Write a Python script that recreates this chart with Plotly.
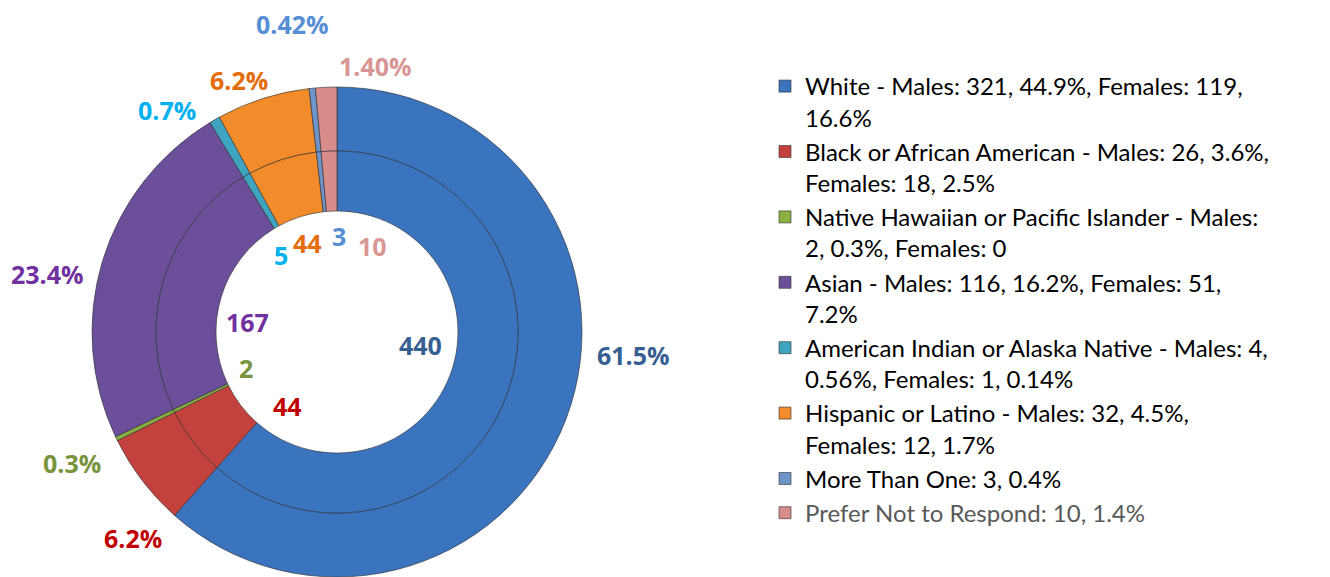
import plotly.graph_objects as go

# enrollment by race / ethnicity (both rings show the same counts)
categories = [
    "White - Males: 321, 44.9%, Females: 119,<br>16.6%",
    "Black or African American - Males: 26, 3.6%,<br>Females: 18, 2.5%",
    "Native Hawaiian or Pacific Islander - Males:<br>2, 0.3%, Females: 0",
    "Asian - Males: 116, 16.2%, Females: 51,<br>7.2%",
    "American Indian or Alaska Native - Males: 4,<br>0.56%, Females: 1, 0.14%",
    "Hispanic or Latino - Males: 32, 4.5%,<br>Females: 12, 1.7%",
    "More Than One: 3, 0.4%",
    "<span style='color:#595959'>Prefer Not to Respond: 10, 1.4%</span>",
]
counts = [440, 44, 2, 167, 5, 44, 3, 10]
outer_labels = ["61.5%", "6.2%", "0.3%", "23.4%", "0.7%", "6.2%", "0.42%", "1.40%"]
inner_labels = ["440", "44", "2", "167", "5", "44", "3", "10"]

colors = ["#3B74BE", "#C4423D", "#8AB03F", "#6C4F9A", "#3FA4BF", "#F28C2A", "#6F94C9", "#D88D8B"]
label_colors = ["#376092", "#C00000", "#77933C", "#7030A0", "#00B0F0", "#E46C0A", "#558ED5", "#D99694"]

W, H = 1330, 577
off = 8                    # page body margin
cx, cy = 337 - off, 332 - off   # ring centre in figure pixels
r_out, r_mid, r_hole = 245, 181, 121

# label positions in screen pixels (as placed in the original)
outer_pos = [(633, 355), (133, 538), (72, 463), (47, 274), (167, 110), (239, 80), (292, 24), (375, 66)]
inner_pos = [(420, 345), (287, 406), (246, 368), (247, 322), (281, 255), (307, 243), (339, 236), (372, 246)]


def dom(r):
    return dict(x=[max(0, (cx - r) / W), min(1, (cx + r) / W)],
                y=[max(0, (H - cy - r) / H), min(1, (H - cy + r) / H)])


edge = dict(color="rgba(45,45,45,0.6)", width=1)

fig = go.Figure()
fig.add_trace(go.Pie(
    labels=categories, values=counts, hole=r_mid / r_out, domain=dom(r_out),
    sort=False, direction="clockwise", rotation=0, textinfo="none",
    marker=dict(colors=colors, line=edge),
))
fig.add_trace(go.Pie(
    labels=categories, values=counts, hole=r_hole / r_mid, domain=dom(r_mid),
    sort=False, direction="clockwise", rotation=0, textinfo="none", showlegend=False,
    marker=dict(colors=colors, line=edge),
))

for txt, (px, py), c in zip(outer_labels + inner_labels, outer_pos + inner_pos, label_colors + label_colors):
    fig.add_annotation(x=(px - off) / W, y=1 - (py - off) / H, xref="paper", yref="paper",
                       xanchor="center", yanchor="middle", text=txt, showarrow=False,
                       font=dict(family="Open Sans", size=25, color=c, weight=700))

fig.update_layout(
    width=W, height=H, margin=dict(l=0, r=0, t=0, b=0),
    paper_bgcolor="white", plot_bgcolor="white",
    font=dict(family="Lato", size=24, color="#000000"),
    legend=dict(x=757 / W, y=1 - 56 / H, xanchor="left", yanchor="top", valign="top",
                font=dict(family="Lato", size=24, color="#000000"), traceorder="normal"),
)

fig.write_html("out.html")
